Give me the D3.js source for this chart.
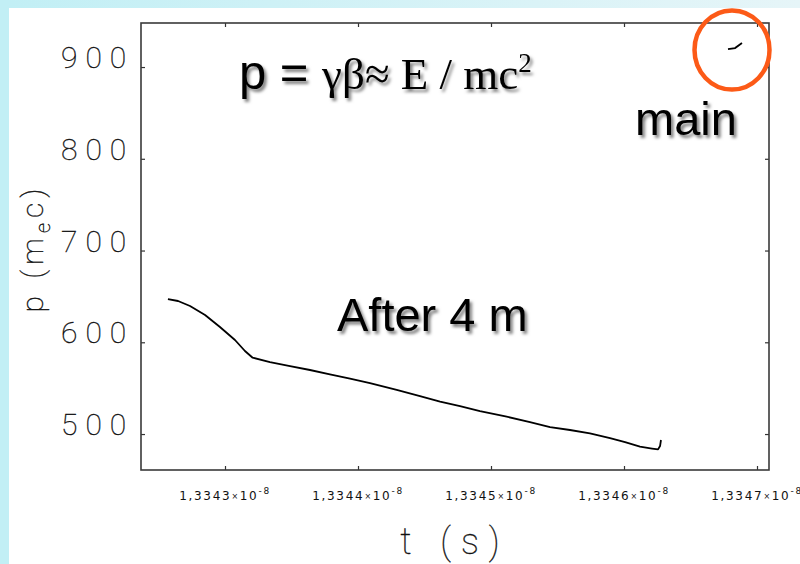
<!DOCTYPE html>
<html>
<head>
<meta charset="utf-8">
<script src="https://cdn.jsdelivr.net/npm/d3@7"></script>
<style>
  html, body { margin: 0; padding: 0; background: #ffffff; }
  svg { display: block; }
</style>
</head>
<body>
<svg id="chart" width="800" height="564"></svg>
<script>
// Momentum of the tracked particle versus time (time in units of 1e-8 s).
const timeValues = [
  1.3342571, 1.3342647, 1.3342737, 1.3342850, 1.3342962, 1.3343075,
  1.3343150, 1.3343208, 1.3343338, 1.3343489, 1.3343639, 1.3343789,
  1.3343940, 1.3344090, 1.3344291, 1.3344466, 1.3344617, 1.3344767,
  1.3344917, 1.3345118, 1.3345293, 1.3345444, 1.3345594, 1.3345744,
  1.3345895, 1.3346008, 1.3346120, 1.3346211, 1.3346256, 1.3346271,
  1.3346278
];
const momentumValues = [
  647.1, 645.0, 639.5, 629.7, 616.6, 602.5,
  590.5, 583.2, 578.5, 574.1, 569.8, 565.1,
  560.5, 555.6, 548.0, 541.4, 535.4, 530.5,
  525.1, 518.9, 513.1, 507.6, 504.4, 500.8,
  495.6, 491.3, 486.2, 484.2, 483.3, 486.9,
  493.5
];

// Short trace of the main bunch, near the top right corner.
const mainTime = [1.3346782, 1.3346835, 1.3346887];
const mainMomentum = [919.6, 920.7, 926.2];

const xTicks = [1.3343, 1.3344, 1.3345, 1.3346, 1.3347];
const xTickLabels = ["1,3343", "1,3344", "1,3345", "1,3346", "1,3347"];
const yTicks = [500, 600, 700, 800, 900];

const xDomain = [1.33423684, 1.33470902];
const yDomain = [460.8, 948.0];

const svg = d3.select("#chart");
const W = 800, H = 564;
const plot = { left: 141, right: 769, top: 23, bottom: 470 };

const defs = svg.append("defs");
const band = defs.append("linearGradient").attr("id", "topBand")
  .attr("x1", "0").attr("x2", "1").attr("y1", "0").attr("y2", "0");
band.append("stop").attr("offset", "0").attr("stop-color", "#c2eff5");
band.append("stop").attr("offset", "1").attr("stop-color", "#e6f5f8");

const shadow = defs.append("filter").attr("id", "shadow")
  .attr("x", "-10%").attr("y", "-20%").attr("width", "130%").attr("height", "150%");
shadow.append("feDropShadow")
  .attr("dx", 2.5).attr("dy", 3).attr("stdDeviation", 1.8)
  .attr("flood-color", "#000").attr("flood-opacity", 0.5);

// Slide background: cyan frame on left and top, white panel
svg.append("rect").attr("width", W).attr("height", H).attr("fill", "#c2eff5");
svg.append("rect").attr("x", 9).attr("width", W - 9).attr("height", 8).attr("fill", "url(#topBand)");
svg.append("rect").attr("x", 9).attr("y", 8).attr("width", W - 9).attr("height", H - 8).attr("fill", "#ffffff");

const x = d3.scaleLinear().domain(xDomain).range([plot.left, plot.right]);
const y = d3.scaleLinear().domain(yDomain).range([plot.bottom, plot.top]);

// Axes: inward tick marks on all four sides
const tickLen = 4;
const axisStyle = g => {
  g.selectAll(".domain").remove();
  g.selectAll(".tick line").attr("stroke", "#333").attr("stroke-width", 1.2);
  g.selectAll(".tick text").remove();
};
svg.append("g").attr("transform", `translate(0,${plot.bottom})`)
  .call(d3.axisBottom(x).tickValues(xTicks).tickSize(-tickLen)).call(axisStyle);
svg.append("g").attr("transform", `translate(0,${plot.top})`)
  .call(d3.axisTop(x).tickValues(xTicks).tickSize(-tickLen)).call(axisStyle);
svg.append("g").attr("transform", `translate(${plot.left},0)`)
  .call(d3.axisLeft(y).tickValues(yTicks).tickSize(-tickLen)).call(axisStyle);
svg.append("g").attr("transform", `translate(${plot.right},0)`)
  .call(d3.axisRight(y).tickValues(yTicks).tickSize(-tickLen)).call(axisStyle);

// Plot frame
svg.append("rect")
  .attr("x", plot.left).attr("y", plot.top)
  .attr("width", plot.right - plot.left).attr("height", plot.bottom - plot.top)
  .attr("fill", "none").attr("stroke", "#3a3a3a").attr("stroke-width", 1.6);

// Thin line-drawn lettering used for the axis numbers and titles
const thinFont = "Roboto, 'Liberation Sans', sans-serif";
const thin = sel => sel
  .attr("font-family", thinFont).attr("font-weight", 100)
  .attr("fill", "#111").attr("stroke", "#111").attr("stroke-width", 0.35);

// Y tick labels
svg.append("g").selectAll("text").data(yTicks).join("text")
  .attr("x", 61).attr("y", d => y(d) + 1)
  .attr("font-size", 30).attr("letter-spacing", 8)
  .call(thin)
  .text(d => d);

// X tick labels: "1,3343×10^-8"
const xl = svg.append("g").selectAll("text").data(xTicks).join("text")
  .attr("x", d => x(d)).attr("y", 500)
  .attr("text-anchor", "middle")
  .attr("font-family", "'DejaVu Sans', sans-serif")
  .attr("font-size", 12).attr("letter-spacing", 1.7)
  .attr("fill", "#111");
xl.append("tspan").text((d, i) => xTickLabels[i]);
xl.append("tspan").attr("font-size", 8).attr("dy", -1).text("×");
xl.append("tspan").attr("dy", 1).text("10");
xl.append("tspan").attr("font-size", 9).attr("dy", -6).text("-8");

// Axis titles
svg.append("text")
  .attr("x", 455).attr("y", 554)
  .attr("text-anchor", "middle")
  .attr("font-size", 36).attr("letter-spacing", 10)
  .call(thin)
  .text("t (s)");

const yt = svg.append("text")
  .attr("transform", "translate(43,248) rotate(-90)")
  .attr("text-anchor", "middle")
  .attr("font-size", 30).attr("letter-spacing", 5)
  .call(thin);
yt.append("tspan").text("p (m");
yt.append("tspan").attr("font-size", 20).attr("dy", 7).text("e");
yt.append("tspan").attr("dy", -7).text("c)");

// Data traces
const line = d3.line().x(d => x(d[0])).y(d => y(d[1]));
svg.append("path")
  .datum(d3.zip(timeValues, momentumValues))
  .attr("d", line)
  .attr("fill", "none").attr("stroke", "#000").attr("stroke-width", 1.8)
  .attr("stroke-linejoin", "round");
svg.append("path")
  .datum(d3.zip(mainTime, mainMomentum))
  .attr("d", line)
  .attr("fill", "none").attr("stroke", "#000").attr("stroke-width", 1.8);

// Highlight ring around the main bunch
svg.append("ellipse")
  .attr("cx", 732).attr("cy", 50).attr("rx", 37.5).attr("ry", 39.5)
  .attr("fill", "none").attr("stroke", "#fc5a17").attr("stroke-width", 4.5);

// Annotations
const formula = svg.append("text")
  .attr("x", 239).attr("y", 89)
  .attr("filter", "url(#shadow)")
  .attr("fill", "#000");
formula.append("tspan")
  .attr("font-family", "'Liberation Sans', Arial, sans-serif").attr("font-size", 49)
  .text("p = ");
formula.append("tspan")
  .attr("font-family", "'Liberation Serif', 'Times New Roman', serif").attr("font-size", 45)
  .text("γβ≈ E / mc");
formula.append("tspan")
  .attr("font-family", "'Liberation Serif', 'Times New Roman', serif").attr("font-size", 27)
  .attr("dy", -17).text("2");

svg.append("text")
  .attr("x", 337).attr("y", 331)
  .attr("font-family", "'Liberation Sans', Arial, sans-serif").attr("font-size", 47)
  .attr("filter", "url(#shadow)")
  .attr("fill", "#000")
  .text("After 4 m");

svg.append("text")
  .attr("x", 635).attr("y", 135)
  .attr("font-family", "'Liberation Sans', Arial, sans-serif").attr("font-size", 47)
  .attr("filter", "url(#shadow)")
  .attr("fill", "#000")
  .text("main");
</script>
</body>
</html>
